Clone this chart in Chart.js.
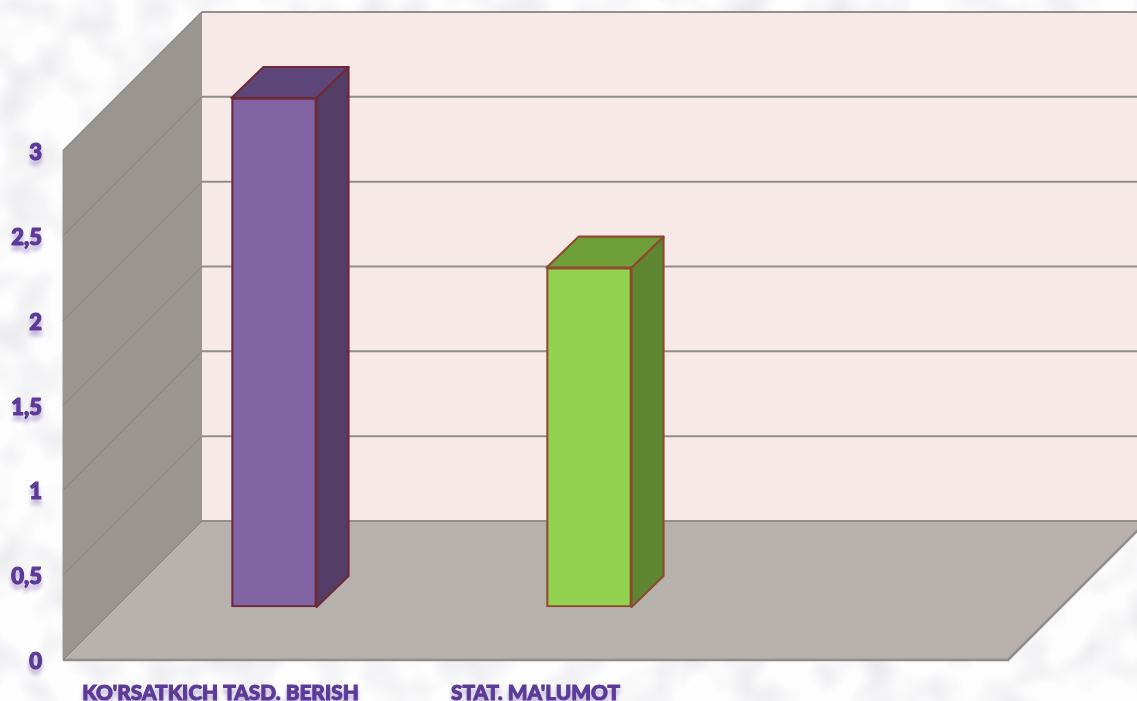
<!DOCTYPE html>
<html>
<head>
<meta charset="utf-8">
<script src="https://cdn.jsdelivr.net/npm/chart.js@4"></script>
<style>
html,body{margin:0;padding:0;width:1137px;height:701px;overflow:hidden}
body{
 background-color:#fdfdfe;
 background-image:url("data:image/svg+xml;utf8,<svg xmlns='http://www.w3.org/2000/svg' width='1137' height='701'><filter id='n' x='0' y='0' width='100%' height='100%'><feTurbulence type='fractalNoise' baseFrequency='0.022' numOctaves='2' seed='7'/><feColorMatrix type='matrix' values='0 0 0 0 0.80  0 0 0 0 0.80  0 0 0 0 0.82  2.2 0 0 0 -0.92'/></filter><rect width='1137' height='701' filter='url(%23n)'/></svg>");
}
canvas{display:block}
</style>
</head>
<body>
<canvas id="c" width="1137" height="701"></canvas>
<script>
const categories = ["KO'RSATKICH TASD. BERISH", "STAT. MA'LUMOT", ""];
const values = [3, 2, null];
const yTickLabels = ["0", "0,5", "1", "1,5", "2", "2,5", "3"];
const frontColors = ["#8263A3", "#93D250", "#93D250"];
const sideColors = ["#543E67", "#5F8733", "#5F8733"];
const topColors = ["#5F4678", "#6F9F39", "#6F9F39"];
const edgeColors = ["#6E2A38", "#8E4A2E", "#8E4A2E"];

const wallDepth = 139, barOffsetX = 53.5, barOffsetY = 53, barDepthX = 32, barDepthY = 31;

function poly(ctx, pts, fill, stroke, lw) {
  ctx.beginPath();
  pts.forEach((p, i) => i ? ctx.lineTo(p[0], p[1]) : ctx.moveTo(p[0], p[1]));
  ctx.closePath();
  if (fill) { ctx.fillStyle = fill; ctx.fill(); }
  if (stroke) { ctx.strokeStyle = stroke; ctx.lineWidth = lw; ctx.lineJoin = 'round'; ctx.stroke(); }
}

const scene3d = {
  id: 'scene3d',
  beforeDraw(chart) {
    const ctx = chart.ctx, y = chart.scales.y, a = chart.chartArea;
    const y0 = y.getPixelForValue(0), yTop = y.getPixelForValue(3);
    const L = a.left, R = a.right, d = wallDepth, W = chart.width;
    ctx.save();
    poly(ctx, [[L + d, yTop - d], [W + 20, yTop - d], [W + 20, y0 - d], [L + d, y0 - d]], '#F6E9E8');
    poly(ctx, [[L, yTop], [L + d, yTop - d], [L + d, y0 - d], [L, y0]], '#9A9591');
    poly(ctx, [[L, y0], [L + d, y0 - d], [R + d, y0 - d], [R, y0]], '#B7B1AE');
    y.ticks.forEach(t => {
      const py = y.getPixelForValue(t.value);
      ctx.beginPath(); ctx.moveTo(L + d, py - d); ctx.lineTo(W, py - d);
      ctx.strokeStyle = '#918E8D'; ctx.lineWidth = 2; ctx.stroke();
      ctx.beginPath(); ctx.moveTo(L, py); ctx.lineTo(L + d, py - d);
      ctx.strokeStyle = t.value === 3 ? '#8F8F8F' : '#84807D'; ctx.lineWidth = t.value === 3 ? 2 : 1; ctx.stroke();
    });
    ctx.beginPath(); ctx.moveTo(L, y0); ctx.lineTo(R, y0); ctx.lineTo(R + d, y0 - d);
    ctx.strokeStyle = '#8F8C8B'; ctx.lineWidth = 2.5; ctx.stroke();
    ctx.beginPath(); ctx.moveTo(L, yTop); ctx.lineTo(L, y0);
    ctx.strokeStyle = '#9A9591'; ctx.lineWidth = 1; ctx.stroke();
    ctx.restore();
    ctx.shadowColor = 'rgba(88,50,150,0.3)';
    ctx.shadowOffsetY = 5;
    ctx.shadowBlur = 4;
  },
  beforeDatasetsDraw(chart) {
    const ctx = chart.ctx;
    ctx.shadowColor = 'transparent'; ctx.shadowOffsetY = 0; ctx.shadowBlur = 0;
    ctx.save();
    ctx.translate(barOffsetX, -barOffsetY);
    chart.getDatasetMeta(0).data.forEach((bar, i) => {
      if (values[i] == null) return;
      const l = bar.x - bar.width / 2, r = bar.x + bar.width / 2, t = bar.y, b = bar.base;
      const dx = barDepthX, dy = barDepthY;
      poly(ctx, [[r, t], [r + dx, t - dy], [r + dx, b - dy], [r, b]], sideColors[i], edgeColors[i], 2.2);
      poly(ctx, [[l, t], [l + dx, t - dy], [r + dx, t - dy], [r, t]], topColors[i], edgeColors[i], 2.2);
    });
  },
  afterDatasetsDraw(chart) {
    chart.ctx.restore();
  }
};

const labelColor = '#5B3A98';
new Chart(document.getElementById('c'), {
  type: 'bar',
  data: {
    labels: categories,
    datasets: [{
      data: values,
      backgroundColor: frontColors,
      borderColor: edgeColors,
      borderWidth: 2.2,
      borderSkipped: false,
      barThickness: 85,
      clip: false
    }]
  },
  plugins: [scene3d],
  options: {
    responsive: false,
    animation: false,
    layout: { padding: { left: 0, right: 129, top: 151, bottom: 0 } },
    plugins: { legend: { display: false }, tooltip: { enabled: false }, title: { display: false } },
    scales: {
      x: {
        grid: { display: false, drawTicks: false },
        border: { display: false },
        afterFit(s) { s.height = 41; },
        ticks: {
          autoSkip: false, maxRotation: 0, minRotation: 0, padding: 21,
          color: labelColor, textStrokeColor: labelColor, textStrokeWidth: 1,
          font: { family: 'Lato', weight: '900', size: 20.8 }
        }
      },
      y: {
        min: 0, max: 3,
        grid: { display: false, drawTicks: false },
        border: { display: false },
        afterFit(s) { s.width = 63; },
        ticks: {
          stepSize: 0.5, padding: 21, labelOffset: 2,
          callback: (v, i) => yTickLabels[i],
          color: labelColor, textStrokeColor: labelColor, textStrokeWidth: 1.2,
          font: { family: 'Lato', weight: '900', size: 22 }
        }
      }
    }
  }
});
</script>
</body>
</html>
